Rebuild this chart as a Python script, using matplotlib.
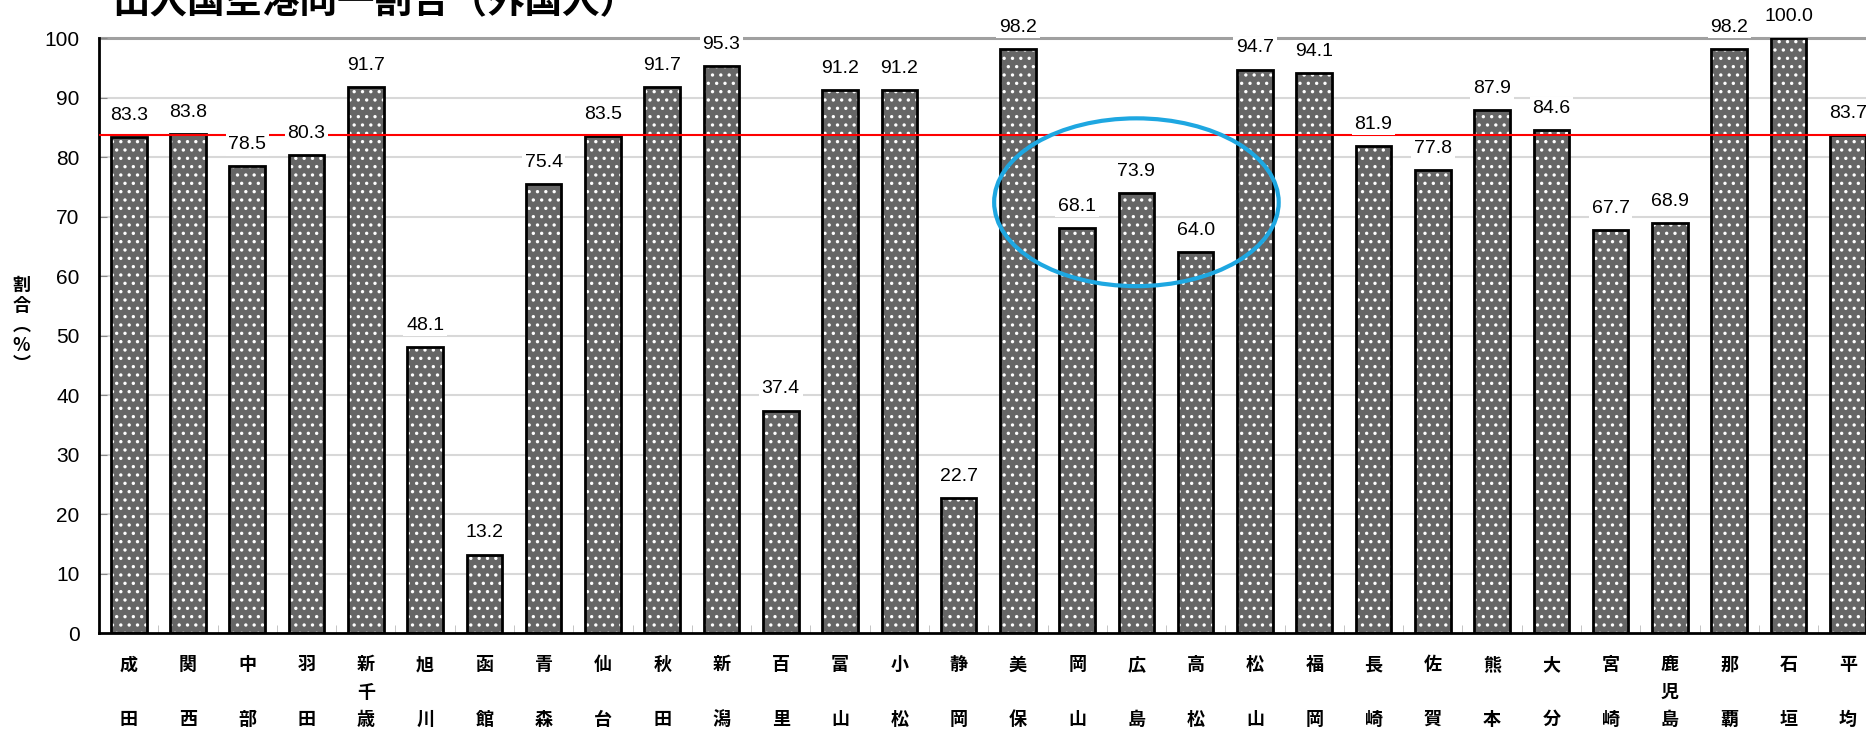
import matplotlib
matplotlib.use('Agg')
import matplotlib.pyplot as plt
from matplotlib.patches import Ellipse

plt.rcParams['font.family'] = ['Liberation Sans', 'Noto Sans CJK JP']
plt.rcParams['hatch.linewidth'] = 1.2

airports = ['成田', '関西', '中部', '羽田', '新千歳', '旭川', '函館', '青森', '仙台', '秋田',
            '新潟', '百里', '富山', '小松', '静岡', '美保', '岡山', '広島', '高松', '松山',
            '福岡', '長崎', '佐賀', '熊本', '大分', '宮崎', '鹿児島', '那覇', '石垣', '平均']
ratios = [83.3, 83.8, 78.5, 80.3, 91.7, 48.1, 13.2, 75.4, 83.5, 91.7,
          95.3, 37.4, 91.2, 91.2, 22.7, 98.2, 68.1, 73.9, 64.0, 94.7,
          94.1, 81.9, 77.8, 87.9, 84.6, 67.7, 68.9, 98.2, 100.0, 83.7]
average = 83.7
y_ticks = [0, 10, 20, 30, 40, 50, 60, 70, 80, 90, 100]

# 2文字の名前は真ん中を空行にして3段にそろえる
def stack(name):
    if len(name) == 2:
        return name[0] + '\n\n' + name[1]
    return '\n'.join(name)

fig = plt.figure(figsize=(18.66, 7.31), dpi=100)
ax = fig.add_axes([0.0531, 0.134, 0.953, 0.814])

x = list(range(len(airports)))
ax.bar(x, ratios, 0.6, color='#666666', edgecolor='white', hatch='..', linewidth=0, zorder=2)
ax.bar(x, ratios, 0.6, fill=False, edgecolor='black', linewidth=2, zorder=3)

for yv in y_ticks[1:-1]:
    ax.axhline(yv, color='#d8d8d8', linewidth=1.5, zorder=1)
ax.axhline(100, color='#a0a0a0', linewidth=2.2, zorder=1, clip_on=False)
ax.axhline(average, color='red', linewidth=1.5, zorder=4)

for xi, v in zip(x, ratios):
    ax.text(xi, v + 2.2, '%.1f' % v, ha='center', va='bottom', fontsize=14, zorder=5,
            clip_on=False, bbox=dict(facecolor='white', edgecolor='none', pad=2))

ax.add_patch(Ellipse((17.0, 72.4), 4.8, 28.2, fill=False, edgecolor='#1ea7e1', linewidth=3, zorder=6))

ax.set_xlim(-0.5, len(airports) - 0.5)
ax.set_ylim(0, 100)
ax.set_yticks(y_ticks)
ax.set_yticklabels([str(t) for t in y_ticks], fontsize=15)
ax.set_xticks(x)
ax.set_xticklabels([stack(n) for n in airports], fontsize=13, fontweight='bold',
                   family=['Noto Sans CJK JP'], linespacing=1.55, va='top')
ax.tick_params(axis='x', length=0, pad=16)
ax.set_xticks([i + 0.5 for i in x[:-1]], minor=True)
ax.tick_params(axis='x', which='minor', direction='in', length=6, color='#bbbbbb')
ax.tick_params(axis='y', direction='in', length=6, pad=14, color='#888888')

for s in ['top', 'right']:
    ax.spines[s].set_visible(False)
ax.spines['left'].set_linewidth(2)
ax.spines['bottom'].set_linewidth(2)

fig.text(0.0115, 0.555, '割\n合\n︵\n%\n︶', ha='center', va='center', fontsize=13,
         family=['Noto Sans CJK JP'], linespacing=1.05, fontweight='bold')
fig.text(0.201, 0.997, '出入国空港同一割合（外国人）', ha='center', va='center', fontsize=27,
         fontweight='bold', family=['Noto Sans CJK JP'])

fig.savefig('out.png', dpi=100)
